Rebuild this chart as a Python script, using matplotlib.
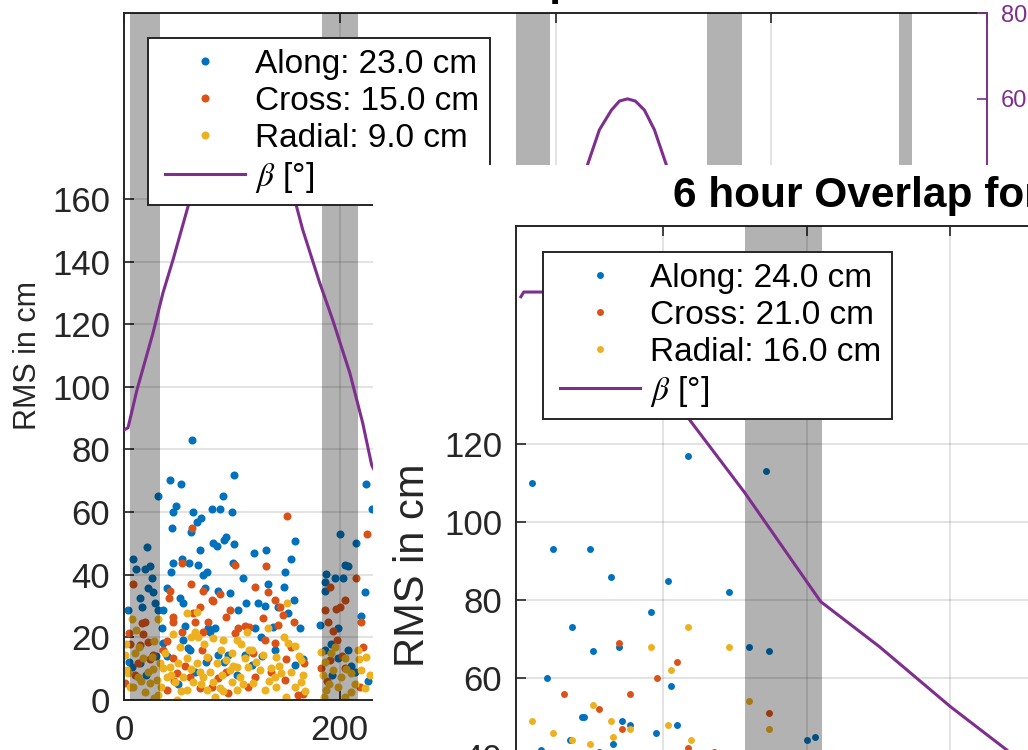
import matplotlib
matplotlib.use("Agg")
import matplotlib.pyplot as plt
from matplotlib.lines import Line2D
from matplotlib.legend_handler import HandlerLine2D
from matplotlib.patches import Rectangle

plt.rcParams["font.family"] = ["Liberation Sans", "DejaVu Sans"]
plt.rcParams["mathtext.fontset"] = "stix"

# ---- 24 h run (back figure) ----
along_x = [62.7, 102, 42.6, 52.8, 31.2, 91.4, 48.1, 45.7, 64.2, 81.2, 88.9, 99.7, 71.3, 67.3, 44.1, 62,
           21, 82.7, 85.8, 94.4, 92.6, 102, 70.4, 8, 11, 19.4, 24, 53.4, 60.5, 45, 68.8, 100.6, 43.2,
           73.5, 77.2, 25.6, 110, 22.5, 27.2, 14.8, 39.5, 51.9, 55, 75, 87.3, 98, 28.7, 4, 16.4, 31.8,
           36.4, 106, 34.9, 56.5, 78, 84.3, 79.6, 55, 59.6, 61, 87.3, 96.6, 7, 36.4, 14.8,
           224.7, 230, 158.3, 120.6, 131.4, 155.2, 149.7, 200, 214.8, 204.6, 207.7, 187.6, 195.3, 203,
           186, 186, 133.6, 148.4, 223, 113.5, 124.3, 130.5, 142.9, 157.7, 152.1, 220, 181.4, 198.4,
           162.9, 138.2, 127.4, 121.3, 186, 198.4, 207.7, 112, 118.2, 158.3,
           5, 20, 40, 66, 93, 128, 166, 193, 210, 226, 30, 50, 76, 105, 140, 192, 214]
along_y = [82.9, 71.9, 70.1, 69, 65, 65, 62, 60, 60, 61, 61, 60, 58, 57, 54.8, 53.8,
           49, 50, 49.2, 52, 51, 49.8, 47.9, 45, 41.7, 41.7, 42.8, 45, 43.9, 43.9, 43.1, 43.9, 40.8,
           40, 40.8, 38.9, 38.9, 35.9, 34.6, 32.7, 35.9, 32.7, 31.1, 35.9, 34.8, 34.1, 30.9, 28.8, 29.8, 28.8,
           28.8, 28.8, 22.9, 23.6, 22.9, 22.9, 21.8, 19.2, 16.5, 16, 14.4, 14.4, 10.6, 18.1, 11.7,
           69, 61, 50.9, 46.9, 47.9, 44.9, 40.8, 52.9, 50, 43.1, 42.8, 40.1, 38.9, 38.9,
           37.8, 34.8, 37, 36, 34.6, 31.1, 31.1, 30, 29.8, 31.9, 27.9, 26.8, 24, 22.9,
           22.9, 23.4, 20.2, 22.9, 16, 13.3, 16, 14.4, 11.2, 11.2,
           12, 8, 14, 9, 12, 14, 13, 8, 11, 6, 14, 5, 12, 8, 16, 18, 9]

cross_x = [63.3, 53.4, 102.8, 8, 62, 72.8, 42.6, 42, 88.9, 81.2, 82.7, 70.4, 63.6, 45.7, 98, 94.4,
           19.4, 16.4, 45.7, 65.7, 77.5, 112, 4.9, 17.9, 53.4, 73.5, 102.8, 106, 22.5, 14.8, 36.4, 72,
           27.2, 45.7, 78, 13.3, 0.9, 48.8, 61, 87.3, 96.6, 70.4, 39.5,
           151.5, 225.6, 131.4, 121.9, 133.6, 190.7, 215.4, 139.8, 144.4, 129, 147.5, 157.7, 142.9, 115.7,
           186, 196.9, 200, 204.6, 189.2, 193.8, 197.8, 220, 130.5, 155.2, 139.8, 167, 183, 190.7,
           204.6, 221.6, 121.3, 161.4, 149, 115.1,
           10, 24, 46, 57, 82, 95, 120, 136, 150, 166, 188, 202, 219, 6, 40]
cross_y = [54.8, 43.9, 43.1, 37, 37, 34.8, 34.8, 32.7, 33.8, 31.9, 31.7, 29.8, 27.7, 26.6, 28.8, 26.6,
           25, 24.5, 25, 25, 25, 23.6, 21.5, 21, 21.8, 21.8, 21.5, 22.9, 18.6, 17.6, 16, 16,
           14.4, 13.3, 13.3, 11.7, 5.3, 8.5, 7.5, 6.9, 2.1, 3.7, 3.2,
           58.9, 52.9, 42.9, 36, 34.6, 36, 38.9, 31.9, 29.8, 26.1, 27.2, 25, 24, 23.4,
           28.8, 29, 29.8, 31.9, 25, 22, 19.2, 25, 19.2, 17, 18.1, 11.7, 10.1, 12.8,
           10.1, 17, 7.5, 1.6, 6.4, 4.3,
           8, 13, 6, 11, 4, 9, 15, 9, 13, 2, 6, 14, 4, 18, 19]

radial_x = [7.1, 31.8, 58, 67.3, 11, 45.7, 65.7, 68.8, 82.7, 92, 104.3, 113.6,
            0.9, 10.2, 17.9, 25.6, 33.3, 42.6, 50.3, 58, 67.3, 76.5, 85.8, 95, 104.3, 112,
            4, 13.3, 22.5, 30.2, 39.5, 47.2, 55, 64.2, 73.5, 82.7, 90.4, 99.7, 107.4,
            8.6, 19.4, 31.8, 48.8, 58, 76.5, 88.9, 104.3, 3.1, 24, 36.4, 70.4, 98,
            151.5, 133.6, 148.4, 152.1, 158.3, 118.2, 129, 141.3, 164.5, 183, 192.2, 204.6, 216.9, 224.7,
            115.1, 125.9, 136.7, 146, 155.2, 166, 184.5, 193.8, 201.5, 210.8, 220,
            119.7, 130.5, 141.3, 158.3, 187.6, 198.4, 210.8, 223, 164.5, 139.8,
            2, 14, 28, 38, 52, 62, 74, 90, 100, 108, 6, 16, 27, 34, 44, 53, 62, 71, 80, 92,
            101, 110, 116, 122, 134, 144, 150, 162, 168, 186, 190, 196, 206, 214, 218, 228, 185, 205, 28, 84]
radial_y = [25.8, 25.8, 27.7, 28.2, 22.2, 21.1, 21.8, 20.2, 19.7, 19.2, 19.2, 21.8,
            14.4, 14.9, 13.3, 13.8, 11.7, 10.6, 11.7, 13.3, 11.7, 13.8, 11.7, 12.8, 10.6, 13.3,
            8.5, 7.5, 9, 6.4, 7.5, 5.9, 7.5, 5.9, 7.5, 5.9, 8, 5.9, 7.5,
            4.3, 2.7, 1.6, 0, 3.2, 3.2, 3.7, 3.2, 9.6, 5.3, 10.1, 9, 9.6,
            31.1, 22.9, 20.2, 18.1, 17.3, 16, 14.4, 13.8, 12.8, 15.4, 14.9, 13.3, 16, 13.8,
            10.6, 9.6, 10.1, 8.5, 9, 8, 8, 9.6, 7.5, 8.5, 9.6,
            5.3, 3.2, 4.3, 4.3, 3.2, 4.3, 2.7, 3.7, 5.9, 7.5,
            18, 17, 19, 15, 17, 20, 18, 16, 15, 18, 4, 6, 10, 4, 8, 3, 10, 5, 9, 3,
            11, 5, 16, 12, 6, 11, 1, 14, 3, 12, 5, 17, 10, 5, 13, 8, 1, 1, 0.5, 1]

beta_x = [0, 3.7, 12, 26.9, 36.1, 45.4, 61.1, 84, 107, 131, 158.3, 165.7, 181.5, 193.5, 209.3,
          221.3, 229.6, 300, 380, 420, 429.6, 440.7, 451.9, 459.3, 466.7, 474, 482.4, 491.7,
          502.8, 560, 650, 800]
beta_deg = [-17.1, -16.6, -7.8, 5.5, 14.8, 22.5, 36.5, 57, 65, 57, 36.5, 29.5, 17.1, 8.5, -3.8,
            -15.5, -25.3, -60, 0, 35, 44.6, 52.8, 57.4, 59.5, 60, 59.5, 57.4, 52.8,
            44.6, -20, -60, -30]

eclipse_start = [5.6, 183.5, 363.3, 540.3, 718.3]
eclipse_end = [33.4, 216.9, 394.8, 573.0, 730.4]

labels_24h = ["Along: 23.0 cm", "Cross: 15.0 cm", "Radial: 9.0 cm", r"$\beta$ [°]"]

# ---- 6 h run (front figure) ----
along6_x = [4.5, 11.8, 24.7, 31.9, 51.7, 58.7, 85.8, 72.9, 18.4, 45.8, 25.7, 34.7, 9.7, 52.8,
            79.9, 86.8, 21.9, 22.6, 35.8, 38.5, 54.9, 47.6, 17.7, 32.6, 100, 103.1, 7.6, 27.8]
along6_y = [110, 93, 93, 86, 85, 117, 113, 82, 73, 77, 67, 68, 60, 58,
            68, 67, 50, 50, 49, 48, 48, 46, 44, 43, 44, 45, 41.5, 41]
cross6_x = [34.7, 15.6, 38.5, 47.9, 54.9, 27.8, 35.8, 86.8, 58.7, 68]
cross6_y = [69, 56, 56, 60, 64, 52, 47, 51, 42, 41]
radial6_x = [4.5, 11.8, 18.4, 24.7, 25.7, 31.9, 32.6, 38.5, 45.8, 58.7, 72.9, 52.8, 51.7, 59.7, 79.9, 86.8]
radial6_y = [49, 46, 44, 43, 53, 49, 45, 47, 68, 73, 68, 62, 48, 44, 54, 47]

beta6_x = [0.7, 1.7, 8, 27.4, 57.3, 78.4, 104.9, 125.3, 150, 169.4, 177.4]
beta6_deg = [63.5, 64.6, 64.6, 64.6, 36.6, 17.9, -7.6, -18.1, -32.1, -42.1, -46.8]

eclipse6_start = [78.5]
eclipse6_end = [105.2]

labels_6h = ["Along: 24.0 cm", "Cross: 21.0 cm", "Radial: 16.0 cm", r"$\beta$ [°]"]

BLUE = "#0072BD"
ORANGE = "#D95319"
YELLOW = "#EDB120"
PURPLE = "#7E2F8E"
AX_GRAY = (0.15, 0.15, 0.15)

W, H = 1028, 750


def fx(px):
    return px / W


def fy(py):
    return 1 - py / H


def style_axes(ax):
    ax.tick_params(direction="in", length=7, width=1.2, colors=AX_GRAY, labelsize=25, pad=10,
                   top=True, right=False)
    ax.grid(True, color=AX_GRAY, alpha=0.15, lw=1.2)
    for s in ax.spines.values():
        s.set_color(AX_GRAY)
        s.set_linewidth(1.4)
    ax.spines["right"].set_visible(False)


def style_twin(axr, ticks):
    for name in ["left", "top", "bottom"]:
        axr.spines[name].set_visible(False)
    axr.spines["right"].set_color(PURPLE)
    axr.spines["right"].set_linewidth(1.4)
    axr.tick_params(direction="in", length=7, width=1.2, colors=PURPLE, labelsize=17, pad=10)
    axr.set_ylim(-80, 80)
    # only the ticks that are not hidden behind the front figure
    axr.set_yticks(ticks)


def add_legend(axr, handles, labels, px, py):
    leg = axr.legend(handles, labels, loc="upper left", bbox_to_anchor=(fx(px), fy(py)),
                     bbox_transform=axr.figure.transFigure, borderaxespad=0, borderpad=0.32,
                     handlelength=2.59, handletextpad=0.3, labelspacing=0.18, fontsize=24,
                     frameon=True, fancybox=False, framealpha=1, edgecolor=AX_GRAY,
                     handler_map={Line2D: HandlerLine2D(xpad=0.19)})
    leg.get_frame().set_linewidth(1.4)
    return leg


fig = plt.figure(figsize=(W / 100, H / 100), dpi=100)

# back figure (24 h)
ax1 = fig.add_axes([fx(124), fy(700), 863 / W, 687 / H], zorder=1)
style_axes(ax1)
h1 = ax1.plot(along_x, along_y, "o", ms=5.8, mec="none", color=BLUE)[0]
h2 = ax1.plot(cross_x, cross_y, "o", ms=5.8, mec="none", color=ORANGE)[0]
h3 = ax1.plot(radial_x, radial_y, "o", ms=5.8, mec="none", color=YELLOW)[0]
for a, b in zip(eclipse_start, eclipse_end):
    ax1.axvspan(a, b, color="k", alpha=0.3, lw=0, zorder=3)
ax1.set_xlim(0, 800)
ax1.set_ylim(0, 219.4)
ax1.set_xticks(range(0, 801, 200))
ax1.set_yticks(range(0, 161, 20))

ax1r = ax1.twinx()
ax1r.set_zorder(2)
style_twin(ax1r, [60, 80])
hb = ax1r.plot(beta_x, beta_deg, color=PURPLE, lw=2.2)[0]
add_legend(ax1r, [h1, h2, h3, hb], labels_24h, 148, 38)

fig.text(fx(575), fy(-4.5), "24 hour Overlap", ha="right", va="baseline",
         fontsize=30.5, weight="bold", color="black")
fig.text(fx(28), fy(356), "RMS in cm", rotation=90, ha="center", va="center",
         fontsize=22, color=AX_GRAY)

# front figure covers the lower right part
fig.add_artist(Rectangle((fx(373), 0), 655 / W, 585 / H, transform=fig.transFigure,
                         facecolor="white", edgecolor="none", zorder=2.5))

ax2 = fig.add_axes([fx(516), fy(912), 863 / W, 686 / H], zorder=4)
style_axes(ax2)
g1 = ax2.plot(along6_x, along6_y, "o", ms=5, mec="none", color=BLUE)[0]
g2 = ax2.plot(cross6_x, cross6_y, "o", ms=5, mec="none", color=ORANGE)[0]
g3 = ax2.plot(radial6_x, radial6_y, "o", ms=5, mec="none", color=YELLOW)[0]
for a, b in zip(eclipse6_start, eclipse6_end):
    ax2.axvspan(a, b, color="k", alpha=0.3, lw=0, zorder=3)
ax2.set_xlim(-1, 299)
ax2.set_ylim(0, 175.9)
ax2.set_xticks(range(50, 300, 50))
ax2.set_yticks(range(0, 121, 20))

ax2r = ax2.twinx()
ax2r.set_zorder(5)
style_twin(ax2r, [])
gb = ax2r.plot(beta6_x, beta6_deg, color=PURPLE, lw=2.2)[0]
add_legend(ax2r, [g1, g2, g3, gb], labels_6h, 543, 252)

fig.text(fx(673), fy(207), "6 hour Overlap for GRACE-FO", ha="left", va="baseline",
         fontsize=30.5, weight="bold", color="black", zorder=10)
fig.text(fx(413), fy(565), "RMS in cm", rotation=90, ha="center", va="center",
         fontsize=30, color=AX_GRAY, zorder=10)

fig.savefig("out.png", dpi=100)
